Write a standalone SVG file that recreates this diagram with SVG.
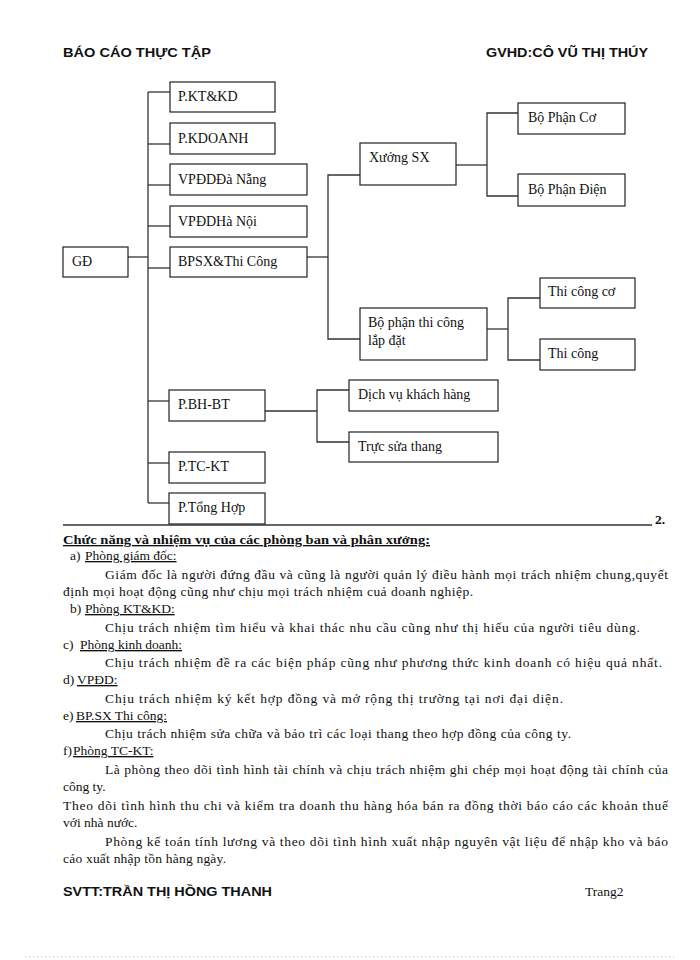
<svg xmlns="http://www.w3.org/2000/svg" width="700" height="960" viewBox="0 0 700 960">
<style>
.bg{fill:#fff}
.box{fill:#fff;stroke:#222;stroke-width:1.2}
.lbl{font-family:"Liberation Serif","Times New Roman",serif;font-size:14px;fill:#111}
.con{fill:none;stroke:#333;stroke-width:1.3}
.hdr{font-family:"Liberation Sans",Arial,sans-serif;font-size:13.5px;font-weight:bold;fill:#111}
.body{font-family:"Liberation Serif","Times New Roman",serif;font-size:13.5px;fill:#111}
.bold{font-weight:bold}
.ul{text-decoration:underline}
</style>
<rect class="bg" x="0" y="0" width="700" height="960"/>

<g id="header">
<text class="hdr" x="63" y="57" textLength="148" lengthAdjust="spacingAndGlyphs">BÁO CÁO THỰC TẬP</text>
<text class="hdr" x="486" y="57" textLength="162" lengthAdjust="spacingAndGlyphs">GVHD:CÔ VŨ THỊ THÚY</text>
</g>

<g id="connectors">
<polyline class="con" points="128,257 148,257"/>
<polyline class="con" points="148,92 148,503"/>
<polyline class="con" points="148,92 170,92"/>
<polyline class="con" points="148,144 170,144"/>
<polyline class="con" points="148,185 170,185"/>
<polyline class="con" points="148,226 170,226"/>
<polyline class="con" points="148,268 170,268"/>
<polyline class="con" points="148,401 169,401"/>
<polyline class="con" points="148,463 169,463"/>
<polyline class="con" points="148,503 169,503"/>
<polyline class="con" points="307,257 328,257"/>
<polyline class="con" points="360,175 328,175 328,339 360,339"/>
<polyline class="con" points="456,165 487,165"/>
<polyline class="con" points="518,113 487,113 487,196 518,196"/>
<polyline class="con" points="487,329 508,329"/>
<polyline class="con" points="540,298 508,298 508,360 540,360"/>
<polyline class="con" points="265,411 317,411"/>
<polyline class="con" points="349,390 317,390 317,442 349,442"/>
</g>

<g id="gd"><rect class="box" x="63" y="247" width="65" height="30"/><text class="lbl" x="72" y="266">GĐ</text></g>
<g id="pktkd"><rect class="box" x="170" y="82" width="105" height="30"/><text class="lbl" x="178" y="101">P.KT&amp;KD</text></g>
<g id="pkdoanh"><rect class="box" x="170" y="123" width="105" height="31"/><text class="lbl" x="178" y="143">P.KDOANH</text></g>
<g id="vpdd-danang"><rect class="box" x="170" y="164" width="137" height="31"/><text class="lbl" x="178" y="184">VPĐDĐà Nẵng</text></g>
<g id="vpdd-hanoi"><rect class="box" x="170" y="206" width="137" height="31"/><text class="lbl" x="178" y="226">VPĐDHà Nội</text></g>
<g id="bpsx"><rect class="box" x="170" y="247" width="137" height="30"/><text class="lbl" x="178" y="266">BPSX&amp;Thi Công</text></g>
<g id="xuong-sx"><rect class="box" x="360" y="143" width="96" height="42"/><text class="lbl" x="369" y="162">Xưởng SX</text></g>
<g id="bp-co"><rect class="box" x="518" y="103" width="107" height="31"/><text class="lbl" x="528" y="122">Bộ Phận Cơ</text></g>
<g id="bp-dien"><rect class="box" x="518" y="174" width="107" height="32"/><text class="lbl" x="528" y="194">Bộ Phận Điện</text></g>
<g id="bp-thicong"><rect class="box" x="360" y="308" width="127" height="52"/><text class="lbl" x="368" y="327">Bộ phận thi công</text><text class="lbl" x="368" y="345">lắp đặt</text></g>
<g id="thicong-co"><rect class="box" x="540" y="278" width="95" height="30"/><text class="lbl" x="548" y="296">Thi công cơ</text></g>
<g id="thicong"><rect class="box" x="540" y="339" width="95" height="31"/><text class="lbl" x="548" y="358">Thi công</text></g>
<g id="pbhbt"><rect class="box" x="169" y="390" width="96" height="31"/><text class="lbl" x="178" y="409">P.BH-BT</text></g>
<g id="dichvu"><rect class="box" x="349" y="380" width="149" height="31"/><text class="lbl" x="358" y="399">Dịch vụ khách hàng</text></g>
<g id="trucsua"><rect class="box" x="349" y="432" width="149" height="30"/><text class="lbl" x="358" y="451">Trực sửa thang</text></g>
<g id="ptckt"><rect class="box" x="169" y="452" width="96" height="31"/><text class="lbl" x="178" y="471">P.TC-KT</text></g>
<g id="ptonghop"><rect class="box" x="169" y="493" width="96" height="31"/><text class="lbl" x="178" y="512">P.Tổng Hợp</text></g>

<g id="rule">
<line x1="63" y1="525" x2="652" y2="525" stroke="#333" stroke-width="1.5"/>
<text class="body bold" x="655" y="524" font-size="14">2.</text>
</g>

<g id="body">
<text class="body bold ul" x="63" y="544" textLength="367" lengthAdjust="spacingAndGlyphs">Chức năng và nhiệm vụ của các phòng ban và phân xưởng:</text>
<text class="body" x="70" y="560">a)</text>
<text class="body ul" x="85" y="560">Phòng giám đốc:</text>
<text class="body" x="105" y="579" textLength="563">Giám đốc là người đứng đầu và cũng là người quản lý điều hành mọi trách nhiệm chung,quyết</text>
<text class="body" x="63" y="596" textLength="410">định mọi hoạt động cũng như chịu mọi trách nhiệm cuả doanh nghiệp.</text>
<text class="body" x="70" y="613">b)</text>
<text class="body ul" x="85" y="613">Phòng KT&amp;KD:</text>
<text class="body" x="105" y="632" textLength="535">Chịu trách nhiệm tìm hiểu và khai thác nhu cầu cũng như thị hiếu của người tiêu dùng.</text>
<text class="body" x="63" y="649">c)</text>
<text class="body ul" x="80" y="649">Phòng kinh doanh:</text>
<text class="body" x="105" y="667" textLength="557">Chịu trách nhiệm đề ra các biện pháp cũng như phương thức kinh doanh có hiệu quả nhất.</text>
<text class="body" x="63" y="684">d)</text>
<text class="body ul" x="77" y="684">VPĐD:</text>
<text class="body" x="105" y="703" textLength="458">Chịu trách nhiệm ký kết hợp đồng và mở rộng thị trường tại nơi đại diện.</text>
<text class="body" x="63" y="720">e)</text>
<text class="body ul" x="76" y="720">BP.SX Thi công:</text>
<text class="body" x="105" y="738" textLength="466">Chịu trách nhiệm sửa chữa và bảo trì các loại thang theo hợp đồng của công ty.</text>
<text class="body" x="63" y="755">f)</text>
<text class="body ul" x="73" y="755">Phòng TC-KT:</text>
<text class="body" x="105" y="774" textLength="563">Là phòng theo dõi tình hình tài chính và chịu trách nhiệm ghi chép mọi hoạt động tài chính của</text>
<text class="body" x="63" y="791">công ty.</text>
<text class="body" x="63" y="810" textLength="605">Theo dõi tình hình thu chi và kiểm tra doanh thu hàng hóa bán ra đồng thời báo cáo các khoản thuế</text>
<text class="body" x="63" y="827">với nhà nước.</text>
<text class="body" x="105" y="846" textLength="563">Phòng kế toán tính lương và theo dõi tình hình xuất nhập nguyên vật liệu để nhập kho và báo</text>
<text class="body" x="63" y="863" textLength="163">cáo xuất nhập tồn hàng ngày.</text>
</g>

<g id="footer">
<text class="hdr" x="63" y="896" textLength="209" lengthAdjust="spacingAndGlyphs">SVTT:TRẦN THỊ HỒNG THANH</text>
<text class="body" x="585" y="896" font-size="14">Trang2</text>
<line x1="25" y1="957" x2="675" y2="957" stroke="#bbb" stroke-width="1" stroke-dasharray="1 3"/>
</g>
</svg>
